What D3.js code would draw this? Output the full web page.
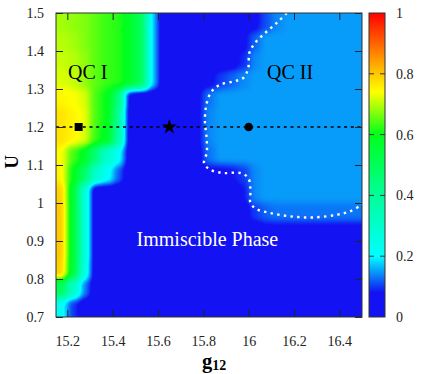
<!DOCTYPE html>
<html>
<head>
<meta charset="utf-8">
<script src="https://cdn.jsdelivr.net/npm/d3@7"></script>
<style>
  html, body { margin: 0; padding: 0; background: #fff; }
  svg text { font-family: 'Liberation Serif', 'Times New Roman', serif; }
</style>
</head>
<body>
<div id="chart"></div>
<script>
// cell left edges (g12) and bottom edges (U), cells are 0.05 x 0.05
const gStart = [15.15, 15.2, 15.25, 15.3, 15.35, 15.4, 15.45, 15.5, 15.55, 15.6, 15.65, 15.7, 15.75, 15.8,
  15.85, 15.9, 15.95, 16.0, 16.05, 16.1, 16.15, 16.2, 16.25, 16.3, 16.35, 16.4, 16.45]
const uStart = [1.45, 1.4, 1.35, 1.3, 1.25, 1.2, 1.15, 1.1, 1.05, 1.0, 0.95, 0.9, 0.85, 0.8, 0.75, 0.7]
const cellSize = 0.05

// order parameter per cell, one row per uStart entry
const fraction = [
  [.69,.68,.67,.65,.63,.62,.58,.50,.18,.04,.04,.04,.04,.04,.05,.05,.06,.07,.11,.14,.15,.15,.15,.15,.15,.15,.15],
  [.70,.69,.67,.65,.63,.62,.58,.50,.18,.04,.04,.04,.04,.04,.05,.06,.07,.12,.15,.15,.15,.15,.15,.15,.15,.15,.15],
  [.71,.70,.68,.65,.63,.62,.58,.50,.18,.04,.04,.04,.04,.04,.05,.06,.09,.14,.15,.15,.15,.15,.15,.15,.15,.15,.15],
  [.72,.71,.68,.65,.63,.62,.58,.50,.18,.04,.04,.04,.05,.07,.10,.12,.14,.15,.15,.15,.15,.15,.15,.15,.15,.15,.15],
  [.75,.74,.72,.64,.60,.45,.06,.04,.04,.04,.04,.04,.07,.13,.15,.15,.15,.15,.15,.15,.15,.15,.15,.15,.15,.15,.15],
  [.77,.75,.73,.64,.60,.40,.05,.04,.04,.04,.04,.04,.07,.14,.15,.15,.15,.15,.15,.15,.15,.15,.15,.15,.15,.15,.15],
  [.77,.75,.72,.63,.58,.38,.05,.04,.04,.04,.04,.04,.07,.14,.15,.15,.15,.15,.15,.15,.15,.15,.15,.15,.15,.15,.15],
  [.74,.64,.58,.45,.30,.22,.05,.04,.04,.04,.04,.04,.06,.13,.15,.15,.15,.15,.15,.15,.15,.15,.15,.15,.15,.15,.15],
  [.75,.60,.48,.30,.22,.12,.04,.04,.04,.04,.04,.04,.04,.07,.07,.08,.10,.14,.15,.15,.15,.15,.15,.15,.15,.15,.15],
  [.79,.56,.28,.04,.04,.04,.04,.04,.04,.04,.04,.04,.04,.04,.04,.05,.08,.14,.15,.15,.15,.15,.15,.15,.15,.15,.15],
  [.80,.56,.28,.04,.04,.04,.04,.04,.04,.04,.04,.04,.04,.04,.04,.04,.06,.10,.12,.13,.13,.13,.13,.13,.13,.13,.13],
  [.80,.56,.28,.04,.04,.04,.04,.04,.04,.04,.04,.04,.04,.04,.04,.04,.04,.05,.07,.07,.07,.07,.07,.07,.07,.07,.07],
  [.80,.56,.28,.04,.04,.04,.04,.04,.04,.04,.04,.04,.04,.04,.04,.04,.04,.04,.04,.04,.04,.04,.04,.04,.04,.04,.04],
  [.79,.55,.26,.04,.04,.04,.04,.04,.04,.04,.04,.04,.04,.04,.04,.04,.04,.04,.04,.04,.04,.04,.04,.04,.04,.04,.04],
  [.50,.32,.14,.04,.04,.04,.04,.04,.04,.04,.04,.04,.04,.04,.04,.04,.04,.04,.04,.04,.04,.04,.04,.04,.04,.04,.04],
  [.22,.10,.05,.04,.04,.04,.04,.04,.04,.04,.04,.04,.04,.04,.04,.04,.04,.04,.04,.04,.04,.04,.04,.04,.04,.04,.04],
]

// QC II boundary (white dots)
const boundaryG = [16.168, 16.124, 16.072, 16.028, 16.003, 15.998, 15.976, 15.932, 15.873, 15.837, 15.815, 15.807,
  15.815, 15.815, 15.803, 15.829, 15.888, 15.962, 15.998, 16.008, 16.008, 16.035, 16.093, 16.181, 16.284, 16.388,
  16.447, 16.491, 16.5]
const boundaryU = [1.5, 1.474, 1.447, 1.421, 1.395, 1.355, 1.329, 1.32, 1.311, 1.294, 1.263, 1.219,
  1.167, 1.132, 1.105, 1.088, 1.079, 1.079, 1.066, 1.035, 1.0, 0.984, 0.974, 0.965, 0.962, 0.969,
  0.978, 0.993, 1.0]

const markerG = [15.25, 15.65, 16.0]
const markerShape = ['square', 'star', 'circle']
const markerU = 1.2

const xTicks = [15.2, 15.4, 15.6, 15.8, 16, 16.2, 16.4]
const yTicks = [0.7, 0.8, 0.9, 1, 1.1, 1.2, 1.3, 1.4, 1.5]
const cbTicks = [0, 0.2, 0.4, 0.6, 0.8, 1]

const paletteStops = [0, 0.08, 0.2, 0.4, 0.6, 0.74, 0.8, 1]
const paletteColors = ['#1212f2', '#1212f2', '#00ffff', '#00ff99', '#00ff1a', '#ffff00', '#ffc800', '#ff0000']

const W = 427, H = 374
const plotL = 56, plotR = 362, plotT = 13, plotB = 317
const cbLeft = 369, cbWidth = 16
const serif = "'Liberation Serif', 'Times New Roman', serif"

const svg = d3.select('#chart').append('svg').attr('width', W).attr('height', H)

const x = d3.scaleLinear().domain([15.15, 16.5]).range([plotL, plotR])
const y = d3.scaleLinear().domain([0.7, 1.5]).range([plotB, plotT])
const color = d3.scaleLinear().domain(paletteStops).range(paletteColors).clamp(true)

const defs = svg.append('defs')
defs.append('clipPath').attr('id', 'plot-clip')
  .append('rect').attr('x', plotL).attr('y', plotT).attr('width', plotR - plotL).attr('height', plotB - plotT)

// heat map: look up the cell under every pixel, smooth the value field a little
// (like pm3d interpolation) and only then colour it
const pw = plotR - plotL, ph = plotB - plotT
let field = new Float32Array(pw * ph)
for (let py = 0; py < ph; py++) {
  const u = y.invert(plotT + py + 0.5)
  let i = uStart.findIndex(s => u >= s - 1e-9)
  if (i < 0) i = uStart.length - 1
  for (let px = 0; px < pw; px++) {
    const g = x.invert(plotL + px + 0.5)
    const j = Math.max(0, Math.min(gStart.length - 1, d3.bisectRight(gStart, g + 1e-9) - 1))
    field[py * pw + px] = fraction[i][j]
  }
}

function boxBlur(src, w, h, r, horizontal) {
  const out = new Float32Array(w * h)
  const n = horizontal ? w : h
  for (let a = 0; a < (horizontal ? h : w); a++) {
    for (let b = 0; b < n; b++) {
      let sum = 0
      for (let k = -r; k <= r; k++) {
        const c = Math.max(0, Math.min(n - 1, b + k))
        sum += horizontal ? src[a * w + c] : src[c * w + a]
      }
      if (horizontal) out[a * w + b] = sum / (2 * r + 1)
      else out[b * w + a] = sum / (2 * r + 1)
    }
  }
  return out
}
for (let pass = 0; pass < 3; pass++) {
  field = boxBlur(field, pw, ph, 3, true)
  field = boxBlur(field, pw, ph, 3, false)
}

const canvas = document.createElement('canvas')
canvas.width = pw
canvas.height = ph
const ctx = canvas.getContext('2d')
const img = ctx.createImageData(pw, ph)
for (let k = 0; k < pw * ph; k++) {
  const c = d3.rgb(color(field[k]))
  img.data[4 * k] = c.r
  img.data[4 * k + 1] = c.g
  img.data[4 * k + 2] = c.b
  img.data[4 * k + 3] = 255
}
ctx.putImageData(img, 0, 0)
svg.append('image').attr('x', plotL).attr('y', plotT).attr('width', pw).attr('height', ph)
  .attr('preserveAspectRatio', 'none').attr('href', canvas.toDataURL())

// dotted line at U = 1.2
const overlay = svg.append('g').attr('clip-path', 'url(#plot-clip)')
overlay.append('line')
  .attr('x1', x(15.15)).attr('x2', x(16.5)).attr('y1', y(markerU)).attr('y2', y(markerU))
  .attr('stroke', '#000').attr('stroke-width', 1.6).attr('stroke-dasharray', '3,3.7')

// QC II boundary
overlay.append('path')
  .datum(boundaryG.map((g, k) => [g, boundaryU[k]]))
  .attr('d', d3.line().x(d => x(d[0])).y(d => y(d[1])).curve(d3.curveCatmullRom))
  .attr('fill', 'none').attr('stroke', '#fff').attr('stroke-width', 2.4)
  .attr('stroke-dasharray', '2.4,4.3')

// markers
markerG.forEach((g, k) => {
  const cx = x(g), cy = y(markerU)
  if (markerShape[k] === 'square') {
    overlay.append('rect').attr('x', cx - 4).attr('y', cy - 4).attr('width', 8).attr('height', 8).attr('fill', '#000')
  } else if (markerShape[k] === 'star') {
    overlay.append('path').attr('transform', `translate(${cx},${cy})`)
      .attr('d', d3.symbol(d3.symbolStar, 70)()).attr('fill', '#000')
  } else {
    overlay.append('circle').attr('cx', cx).attr('cy', cy).attr('r', 4.3).attr('fill', '#000')
  }
})

// region labels
svg.append('text').attr('x', x(15.203)).attr('y', y(1.326)).attr('font-size', 20).attr('fill', '#000').text('QC I')
svg.append('text').attr('x', x(16.081)).attr('y', y(1.326)).attr('font-size', 20).attr('fill', '#000').text('QC II')
svg.append('text').attr('x', x(15.818)).attr('y', y(0.887)).attr('font-size', 20).attr('fill', '#fff')
  .attr('text-anchor', 'middle').text('Immiscible Phase')

// axes, ticks pointing inwards
const fmt = d => String(d)
const styleAxis = g => {
  g.attr('font-family', serif)
  g.select('.domain').remove()
  g.selectAll('.tick line').attr('stroke', '#222')
  g.selectAll('.tick text').attr('font-size', 14).attr('fill', '#222')
}
svg.append('g').attr('transform', `translate(0,${plotB})`)
  .call(d3.axisBottom(x).tickValues(xTicks).tickSize(-7).tickFormat(fmt))
  .call(styleAxis)
  .call(g => g.selectAll('.tick text').attr('y', 29).attr('dy', 0))
svg.append('g').attr('transform', `translate(0,${plotT})`)
  .call(d3.axisTop(x).tickValues(xTicks).tickSize(-7).tickFormat(''))
  .call(styleAxis)
svg.append('g').attr('transform', `translate(${plotL},0)`)
  .call(d3.axisLeft(y).tickValues(yTicks).tickSize(-7).tickFormat(fmt))
  .call(styleAxis)
  .call(g => g.selectAll('.tick text').attr('x', -12))
svg.append('g').attr('transform', `translate(${plotR},0)`)
  .call(d3.axisRight(y).tickValues(yTicks).tickSize(-7).tickFormat(''))
  .call(styleAxis)

svg.append('rect').attr('x', plotL).attr('y', plotT).attr('width', plotR - plotL).attr('height', plotB - plotT)
  .attr('fill', 'none').attr('stroke', '#333').attr('stroke-width', 1)

// axis titles
const xt = svg.append('text').attr('x', 202).attr('y', 368).attr('font-weight', 'bold').attr('fill', '#000')
xt.append('tspan').attr('font-size', 20.5).text('g')
xt.append('tspan').attr('font-size', 14).attr('dy', 2).text('12')
svg.append('text').attr('transform', 'translate(18,162) rotate(-90)').attr('text-anchor', 'middle')
  .attr('font-size', 19).attr('font-weight', 'bold').attr('fill', '#000').text('U')

// colour bar
const cb = d3.scaleLinear().domain([0, 1]).range([plotB, plotT])
const grad = defs.append('linearGradient').attr('id', 'cb-grad')
  .attr('x1', 0).attr('x2', 0).attr('y1', 1).attr('y2', 0)
grad.selectAll('stop').data(paletteStops).join('stop')
  .attr('offset', d => d).attr('stop-color', (d, k) => paletteColors[k])
svg.append('rect').attr('x', cbLeft).attr('y', plotT).attr('width', cbWidth).attr('height', plotB - plotT)
  .attr('fill', 'url(#cb-grad)').attr('stroke', '#333').attr('stroke-width', 1)
const cbG = svg.append('g')
cbG.selectAll('line.l').data(cbTicks.slice(1, -1)).join('line').attr('class', 'l')
  .attr('x1', cbLeft).attr('x2', cbLeft + 5).attr('y1', d => cb(d)).attr('y2', d => cb(d)).attr('stroke', '#333')
cbG.selectAll('line.r').data(cbTicks.slice(1, -1)).join('line').attr('class', 'r')
  .attr('x1', cbLeft + cbWidth - 5).attr('x2', cbLeft + cbWidth).attr('y1', d => cb(d)).attr('y2', d => cb(d)).attr('stroke', '#333')
cbG.selectAll('text').data(cbTicks).join('text')
  .attr('x', 396).attr('y', d => cb(d)).attr('dy', '0.35em')
  .attr('font-size', 14).attr('fill', '#222').text(fmt)
</script>
</body>
</html>
